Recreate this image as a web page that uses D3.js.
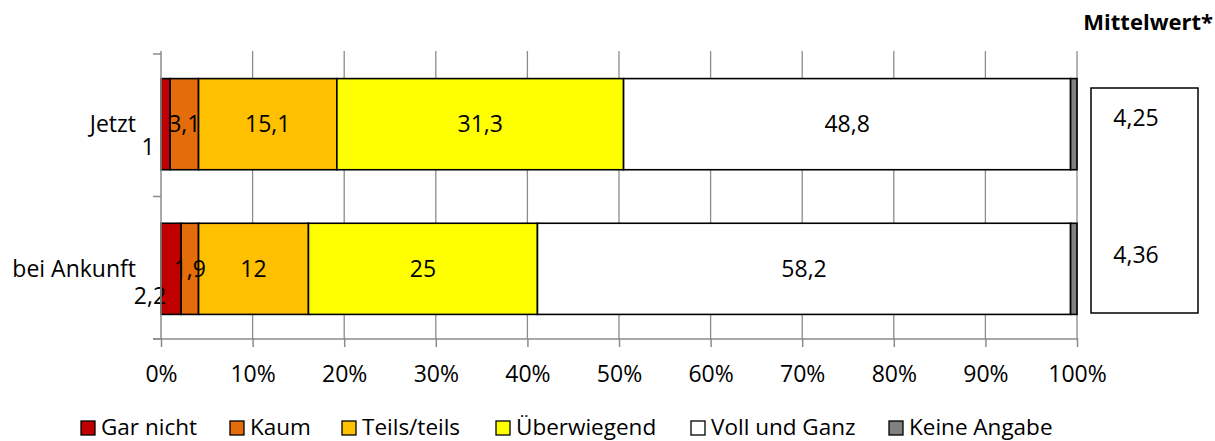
<!DOCTYPE html>
<html>
<head>
<meta charset="utf-8">
<script src="https://cdn.jsdelivr.net/npm/d3@7"></script>
<style>
  body { margin: 0; background: #fff; }
  text { font-family: "Open Sans", "Noto Sans", sans-serif; fill: #000; }
</style>
</head>
<body>
<svg width="1215" height="441"></svg>
<script>
// Daten
const categories = ["Jetzt", "bei Ankunft"];
const seriesNames = ["Gar nicht", "Kaum", "Teils/teils", "Überwiegend", "Voll und Ganz", "Keine Angabe"];
const seriesColors = ["#C00000", "#E46C0A", "#FFC000", "#FFFF00", "#FFFFFF", "#808080"];
const valuesJetzt = [1, 3.1, 15.1, 31.3, 48.8, 0.7];
const valuesAnkunft = [2.2, 1.9, 12, 25, 58.2, 0.7];
const means = ["4,25", "4,36"];
const xTicks = [0, 10, 20, 30, 40, 50, 60, 70, 80, 90, 100];

const svg = d3.select("svg");
const fmt = v => String(v).replace(".", ",");
const FS = 23;

const x = d3.scaleLinear().domain([0, 100]).range([161, 1077]);
const y = d3.scaleBand().domain(categories).range([54, 339]).paddingInner(0.37).paddingOuter(0.17);
const band = d3.scaleBand().domain(categories).range([54, 339]);

// Gitterlinien
svg.append("g")
  .selectAll("line")
  .data(xTicks.slice(1))
  .join("line")
  .attr("x1", d => x(d)).attr("x2", d => x(d))
  .attr("y1", 51).attr("y2", 339)
  .attr("stroke", "#8c8c8c").attr("stroke-width", 1.3);

// Balken
const rows = [valuesJetzt, valuesAnkunft];
const smallOffset = [[-13, 31], [-11, 35]];
rows.forEach((vals, r) => {
  const cat = categories[r];
  let acc = 0;
  const segs = vals.map((v, i) => {
    const s = { start: acc, end: acc + v, v, i };
    acc += v;
    return s;
  });
  const g = svg.append("g");
  g.selectAll("rect")
    .data(segs)
    .join("rect")
    .attr("x", d => x(d.start))
    .attr("y", y(cat))
    .attr("width", d => x(d.end) - x(d.start))
    .attr("height", y.bandwidth())
    .attr("fill", d => seriesColors[d.i])
    .attr("stroke", "#000")
    .attr("stroke-width", 1.6);

  // Beschriftungen (nicht für "Keine Angabe")
  const cy = y(cat) + y.bandwidth() / 2;
  g.selectAll("text")
    .data(segs.filter(d => d.i < 5))
    .join("text")
    .attr("x", d => d.i === 0 ? x(d.start) + smallOffset[r][0] : (x(d.start) + x(d.end)) / 2)
    .attr("y", d => d.i === 0 ? cy + smallOffset[r][1] : cy + 8)
    .attr("text-anchor", "middle")
    .attr("font-size", FS)
    .text(d => fmt(d.v));
});

// Achsen
svg.append("line")
  .attr("x1", 161).attr("x2", 161).attr("y1", 51).attr("y2", 340)
  .attr("stroke", "#8c8c8c").attr("stroke-width", 1.5);
svg.append("g")
  .selectAll("line")
  .data([54, band("bei Ankunft"), 339])
  .join("line")
  .attr("x1", 153).attr("x2", 161).attr("y1", d => d).attr("y2", d => d)
  .attr("stroke", "#8c8c8c").attr("stroke-width", 1.5);

const xAxis = svg.append("g")
  .attr("transform", "translate(0,339)")
  .call(d3.axisBottom(x).tickValues(xTicks).tickSize(8).tickFormat(d => d + "%"));
xAxis.select(".domain").attr("stroke", "#8c8c8c").attr("stroke-width", 1.5)
  .attr("d", "M153,0H1077");
xAxis.selectAll(".tick line").attr("stroke", "#8c8c8c").attr("stroke-width", 1.5)
  .attr("y1", -1);
xAxis.selectAll(".tick text")
  .attr("font-family", "'Open Sans', 'Noto Sans', sans-serif")
  .attr("font-size", FS).attr("fill", "#000").attr("y", 43).attr("dy", null);

// Kategorien
svg.append("g")
  .selectAll("text")
  .data(categories)
  .join("text")
  .attr("x", 136)
  .attr("y", d => y(d) + y.bandwidth() / 2 + 8)
  .attr("text-anchor", "end")
  .attr("font-size", FS)
  .text(d => d);

// Mittelwert
svg.append("text")
  .attr("x", 1213).attr("y", 30)
  .attr("text-anchor", "end")
  .attr("font-size", 22).attr("font-weight", "bold")
  .text("Mittelwert*");
svg.append("rect")
  .attr("x", 1091).attr("y", 88).attr("width", 107).attr("height", 225)
  .attr("fill", "#fff").attr("stroke", "#000").attr("stroke-width", 1.5);
svg.append("g")
  .selectAll("text")
  .data(means)
  .join("text")
  .attr("x", 1136)
  .attr("y", (d, i) => [126, 263][i])
  .attr("text-anchor", "middle")
  .attr("font-size", FS)
  .text(d => d);

// Legende
const legendX = [81, 230, 342, 496, 691, 889];
const legend = svg.append("g")
  .selectAll("g")
  .data(seriesNames)
  .join("g")
  .attr("transform", (d, i) => `translate(${legendX[i]},421)`);
legend.append("rect")
  .attr("width", 14).attr("height", 14)
  .attr("fill", (d, i) => seriesColors[i])
  .attr("stroke", "#000").attr("stroke-width", 1.3);
legend.append("text")
  .attr("x", 20).attr("y", 14)
  .attr("font-size", 22.5)
  .text(d => d);
</script>
</body>
</html>
